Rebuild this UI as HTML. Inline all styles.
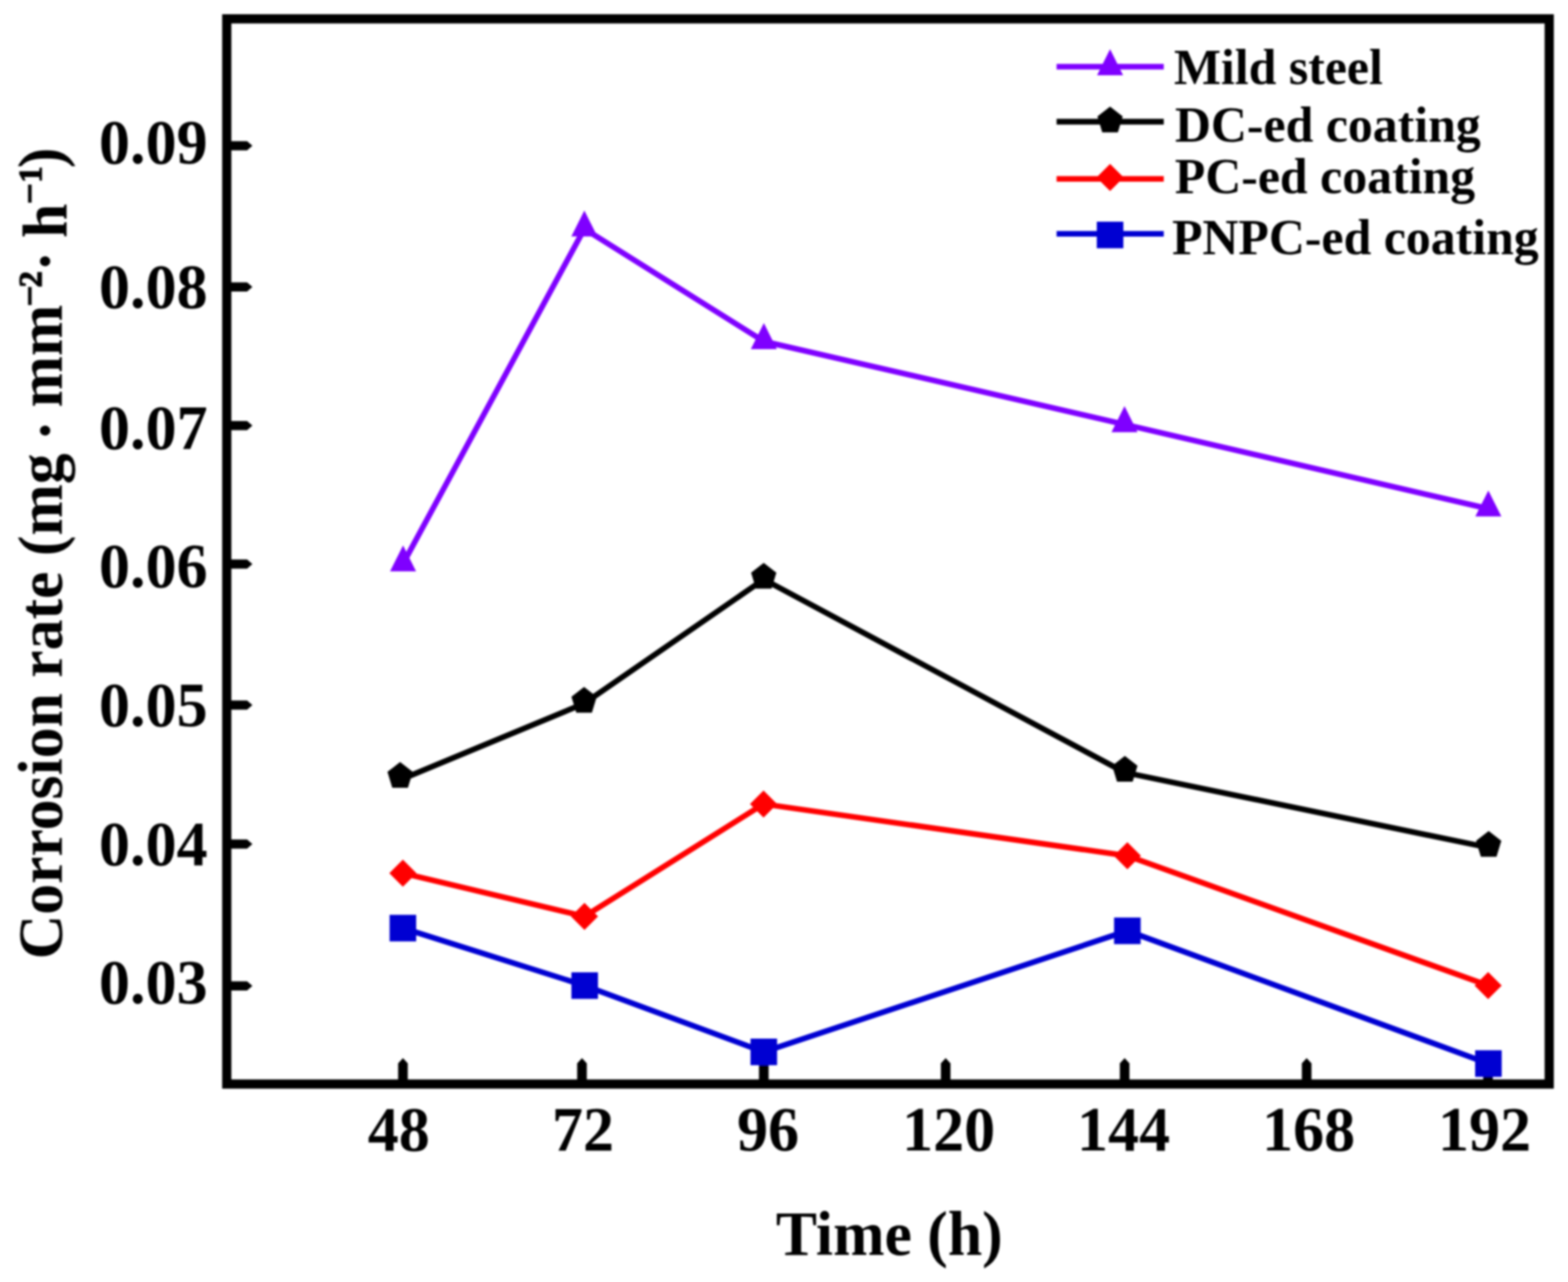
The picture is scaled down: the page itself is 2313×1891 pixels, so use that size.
<!DOCTYPE html>
<html lang="en"><head><meta charset="utf-8"><title>Corrosion rate vs. time</title>
<style>
html,body{margin:0;padding:0;background:#fff;}
body{width:2313px;height:1891px;overflow:hidden;}
svg{display:block;}
text{font-family:"Liberation Serif","DejaVu Serif",serif;font-weight:bold;fill:#000;}
.tk{font-size:91.5px;}
.ti{font-size:91px;}
.lg{font-size:73.5px;}
</style></head><body>
<svg width="2313" height="1891" viewBox="0 0 2313 1891" role="img" aria-label="Corrosion rate versus time for mild steel and DC-ed, PC-ed and PNPC-ed coatings">
<rect x="0" y="0" width="2313" height="1891" fill="#ffffff"/>
<defs><filter id="soft" x="0" y="0" width="2313" height="1891" filterUnits="userSpaceOnUse"><feGaussianBlur stdDeviation="1.45"/></filter></defs>
<g filter="url(#soft)">
<g id="axes" fill="#000">
<polygon points="334.5,208.2 364.5,208.2 372.3,215 364.5,221.8 334.5,221.8"/>
<polygon points="334.5,416.4 364.5,416.4 372.3,423.2 364.5,430 334.5,430"/>
<polygon points="334.5,620.9 364.5,620.9 372.3,627.7 364.5,634.5 334.5,634.5"/>
<polygon points="334.5,825.2 364.5,825.2 372.3,832 364.5,838.8 334.5,838.8"/>
<polygon points="334.5,1033.2 364.5,1033.2 372.3,1040 364.5,1046.8 334.5,1046.8"/>
<polygon points="334.5,1238.2 364.5,1238.2 372.3,1245 364.5,1251.8 334.5,1251.8"/>
<polygon points="334.5,1447.5 364.5,1447.5 372.3,1454.3 364.5,1461.1 334.5,1461.1"/>
<polygon points="587.3,1599 587.3,1568.5 594.4,1560.8 601.5,1568.5 601.5,1599"/>
<polygon points="851.4,1599 851.4,1568.5 858.5,1560.8 865.6,1568.5 865.6,1599"/>
<polygon points="1119.6,1599 1119.6,1568.5 1126.7,1560.8 1133.8,1568.5 1133.8,1599"/>
<polygon points="1387.9,1599 1387.9,1568.5 1395,1560.8 1402.1,1568.5 1402.1,1599"/>
<polygon points="1651.9,1599 1651.9,1568.5 1659,1560.8 1666.1,1568.5 1666.1,1599"/>
<polygon points="1920.4,1599 1920.4,1568.5 1927.5,1560.8 1934.6,1568.5 1934.6,1599"/>
<polygon points="2187.9,1599 2187.9,1568.5 2195,1560.8 2202.1,1568.5 2202.1,1599"/>
<rect x="334.5" y="27.8" width="1950.8" height="1571.2" fill="none" stroke="#000" stroke-width="13.6"/>
</g>
<g id="lines">
<polyline points="594.6,831.4 862,337.4 1126.8,503.6 1658.8,626 2195.5,750.4" fill="none" stroke="#7f00ff" stroke-width="8.3" stroke-linejoin="round" stroke-linecap="butt"/>
<polyline points="594.4,1148.6 861.6,1037.7 1126.6,854.7 1659.3,1139.5 2196,1250.3" fill="none" stroke="#000000" stroke-width="8.3" stroke-linejoin="round" stroke-linecap="butt"/>
<polyline points="594.3,1288 862.2,1351.8 1126.3,1186 1663,1262.3 2195.2,1453.7" fill="none" stroke="#ff0000" stroke-width="8.3" stroke-linejoin="round" stroke-linecap="butt"/>
<polyline points="594.3,1369 862.5,1453.8 1126.7,1551.6 1663,1373 2195.6,1568.8" fill="none" stroke="#0000d2" stroke-width="8.3" stroke-linejoin="round" stroke-linecap="butt"/>
</g>
<g id="markers">
<polygon points="594.6,804.4 575.4,842.8 613.8,842.8" fill="#7f00ff"/>
<polygon points="862,310.4 842.8,348.8 881.2,348.8" fill="#7f00ff"/>
<polygon points="1126.8,476.6 1107.6,515 1146,515" fill="#7f00ff"/>
<polygon points="1658.8,599 1639.6,637.4 1678,637.4" fill="#7f00ff"/>
<polygon points="2195.5,723.4 2176.3,761.8 2214.7,761.8" fill="#7f00ff"/>
<polygon points="590.2,1124.1 608.84,1138.61 601.72,1162.09 578.68,1162.09 571.56,1138.61" fill="#000000"/>
<polygon points="861.6,1013.2 880.24,1027.71 873.12,1051.19 850.08,1051.19 842.96,1027.71" fill="#000000"/>
<polygon points="1126.6,830.2 1145.24,844.71 1138.12,868.19 1115.08,868.19 1107.96,844.71" fill="#000000"/>
<polygon points="1659.3,1115 1677.94,1129.51 1670.82,1152.99 1647.78,1152.99 1640.66,1129.51" fill="#000000"/>
<polygon points="2196,1225.8 2214.64,1240.31 2207.52,1263.79 2184.48,1263.79 2177.36,1240.31" fill="#000000"/>
<polygon points="594.3,1268 614.3,1288 594.3,1308 574.3,1288" fill="#ff0000"/>
<polygon points="862.2,1331.8 882.2,1351.8 862.2,1371.8 842.2,1351.8" fill="#ff0000"/>
<polygon points="1126.3,1166 1146.3,1186 1126.3,1206 1106.3,1186" fill="#ff0000"/>
<polygon points="1663,1242.3 1683,1262.3 1663,1282.3 1643,1262.3" fill="#ff0000"/>
<polygon points="2195.2,1433.7 2215.2,1453.7 2195.2,1473.7 2175.2,1453.7" fill="#ff0000"/>
<rect x="574.7" y="1349.4" width="39.2" height="39.2" fill="#0000d2"/>
<rect x="842.9" y="1434.2" width="39.2" height="39.2" fill="#0000d2"/>
<rect x="1107.1" y="1532" width="39.2" height="39.2" fill="#0000d2"/>
<rect x="1643.4" y="1353.4" width="39.2" height="39.2" fill="#0000d2"/>
<rect x="2176" y="1549.2" width="39.2" height="39.2" fill="#0000d2"/>
</g>
<g id="ticklabels" class="tk">
<text transform="translate(306.2 240.5) scale(1 1.02)" text-anchor="end">0.09</text>
<text transform="translate(306.2 453.9) scale(1 1.02)" text-anchor="end">0.08</text>
<text transform="translate(306.2 661.7) scale(1 1.02)" text-anchor="end">0.07</text>
<text transform="translate(306.2 866) scale(1 1.02)" text-anchor="end">0.06</text>
<text transform="translate(306.2 1070.9) scale(1 1.02)" text-anchor="end">0.05</text>
<text transform="translate(306.2 1275.9) scale(1 1.02)" text-anchor="end">0.04</text>
<text transform="translate(306.2 1480.2) scale(1 1.02)" text-anchor="end">0.03</text>
<text transform="translate(588.3 1696.8) scale(1 1.02)" text-anchor="middle">48</text>
<text transform="translate(860 1696.8) scale(1 1.02)" text-anchor="middle">72</text>
<text transform="translate(1133 1696.8) scale(1 1.02)" text-anchor="middle">96</text>
<text transform="translate(1399.3 1696.8) scale(1 1.02)" text-anchor="middle">120</text>
<text transform="translate(1657.4 1696.8) scale(1 1.02)" text-anchor="middle">144</text>
<text transform="translate(1930.3 1696.8) scale(1 1.02)" text-anchor="middle">168</text>
<text transform="translate(2189.8 1696.8) scale(1 1.02)" text-anchor="middle">192</text>
</g>
<text class="ti" transform="translate(1311.8 1851.5) scale(1 1.02)" text-anchor="middle">Time (h)</text>
<text class="ti" transform="rotate(-90) scale(1 1.02)"><tspan x="-1415" y="89.41">Corrosion rate (mg </tspan><tspan x="-650.2" y="95.49">· </tspan><tspan x="-601" y="89.41">mm</tspan><tspan x="-452" y="61.27" font-size="54" stroke="#000" stroke-width="1.6">−</tspan><tspan x="-424" y="60.29" font-size="48" stroke="#000" stroke-width="1.6">2</tspan><tspan x="-400.5" y="95.29">· </tspan><tspan x="-351" y="96.18">h</tspan><tspan x="-301" y="61.27" font-size="54" stroke="#000" stroke-width="1.6">−</tspan><tspan x="-269.5" y="60.29" font-size="48" stroke="#000" stroke-width="1.6">1</tspan><tspan x="-248" y="89.41">)</tspan></text>
<g id="legend">
<line x1="1558.6" y1="98.4" x2="1716.7" y2="98.4" stroke="#7f00ff" stroke-width="8.4"/>
<polygon points="1637.5,72.5 1618.3,110.9 1656.7,110.9" fill="#7f00ff"/>
<text class="lg" x="1731.7" y="124.3">Mild steel</text>
<line x1="1558.6" y1="179.5" x2="1716.7" y2="179.5" stroke="#000000" stroke-width="8.4"/>
<polygon points="1637.5,157.3 1656.14,171.81 1649.02,195.29 1625.98,195.29 1618.86,171.81" fill="#000000"/>
<text class="lg" x="1733.2" y="208.8">DC-ed coating</text>
<line x1="1558.6" y1="263.9" x2="1716.7" y2="263.9" stroke="#ff0000" stroke-width="8.4"/>
<polygon points="1637.5,241.8 1657.5,261.8 1637.5,281.8 1617.5,261.8" fill="#ff0000"/>
<text class="lg" x="1733" y="284.8">PC-ed coating</text>
<line x1="1558.6" y1="344.9" x2="1716.7" y2="344.9" stroke="#0000d2" stroke-width="8.4"/>
<rect x="1617.9" y="327" width="39.2" height="39.2" fill="#0000d2"/>
<text class="lg" x="1728.9" y="375.1">PNPC-ed coating</text>
</g>
</g>
</svg></body></html>
